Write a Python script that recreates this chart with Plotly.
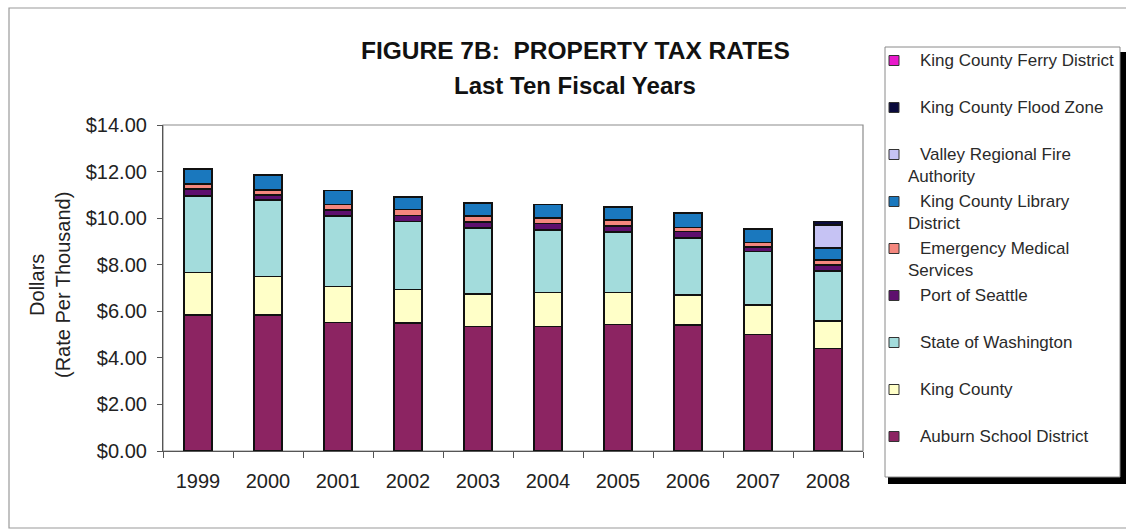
import plotly.graph_objects as go

# Fiscal years and tax rates (dollars per $1,000 of assessed value)
years = ["1999", "2000", "2001", "2002", "2003", "2004", "2005", "2006", "2007", "2008"]

auburn_school = [5.84, 5.85, 5.52, 5.51, 5.34, 5.34, 5.44, 5.42, 5.01, 4.41]
king_county = [1.82, 1.64, 1.54, 1.43, 1.40, 1.46, 1.37, 1.28, 1.26, 1.17]
state_wa = [3.29, 3.29, 3.02, 2.91, 2.83, 2.69, 2.59, 2.45, 2.29, 2.15]
port_seattle = [0.29, 0.21, 0.28, 0.26, 0.27, 0.28, 0.27, 0.28, 0.21, 0.26]
ems = [0.22, 0.22, 0.23, 0.26, 0.24, 0.24, 0.24, 0.16, 0.19, 0.21]
library = [0.65, 0.64, 0.59, 0.55, 0.58, 0.57, 0.58, 0.64, 0.57, 0.53]
valley_fire = [0, 0, 0, 0, 0, 0, 0, 0, 0, 0.97]
flood_zone = [0, 0, 0, 0, 0, 0, 0, 0, 0, 0.15]
ferry = [0, 0, 0, 0, 0, 0, 0, 0, 0, 0.01]

# Stacking order, bottom to top
series = [
    ("Auburn School District", auburn_school, "#8C2462"),
    ("King County", king_county, "#FFFFC8"),
    ("State of Washington", state_wa, "#A3DCDC"),
    ("Port of Seattle", port_seattle, "#5E0F6E"),
    ("Emergency Medical Services", ems, "#F4877E"),
    ("King County Library District", library, "#1A78BE"),
    ("Valley Regional Fire Authority", valley_fire, "#C6C3F4"),
    ("King County Flood Zone", flood_zone, "#0A0A3C"),
    ("King County Ferry District", ferry, "#E81ACB"),
]

# Legend rows, top to bottom: (first line, continuation line)
legend_rows = [
    ("King County Ferry District", ""),
    ("King County Flood Zone", ""),
    ("Valley Regional Fire", "Authority"),
    ("King County Library", "District"),
    ("Emergency Medical", "Services"),
    ("Port of Seattle", ""),
    ("State of Washington", ""),
    ("King County", ""),
    ("Auburn School District", ""),
]

W, H = 1126, 531
ML, MR, MT, MB = 163, 263, 125, 80
PW, PH = W - ML - MR, H - MT - MB
FONT = "Liberation Sans, Arial, sans-serif"


def px(x):
    return (x - ML) / PW


def py(y):
    return (H - MB - y) / PH


fig = go.Figure()
for name, vals, color in series:
    fig.add_trace(go.Bar(
        x=years, y=vals, name=name,
        marker=dict(color=color, line=dict(color="#111111", width=1.6)),
        showlegend=False,
    ))

shapes = []
annotations = []

# outer chart border
shapes.append(dict(type="rect", xref="paper", yref="paper",
                   x0=px(9), x1=px(1140), y0=py(8), y1=py(528),
                   line=dict(color="#9A9A9A", width=1.2), fillcolor="rgba(0,0,0,0)",
                   layer="below"))
# plot area frame
shapes.append(dict(type="rect", xref="paper", yref="paper",
                   x0=0, x1=1, y0=0, y1=1,
                   line=dict(color="#8C8C8C", width=1.2), fillcolor="rgba(0,0,0,0)",
                   layer="below"))

# legend box with drop shadow
shapes.append(dict(type="rect", xref="paper", yref="paper",
                   x0=px(888), x1=px(1126), y0=py(52), y1=py(484),
                   line=dict(width=0), fillcolor="#000000"))
shapes.append(dict(type="rect", xref="paper", yref="paper",
                   x0=px(885), x1=px(1120), y0=py(47), y1=py(477),
                   line=dict(color="#8A8A8A", width=1), fillcolor="#FFFFFF"))

legend_colors = [s[2] for s in reversed(series)]

for i, (line1, line2) in enumerate(legend_rows):
    yc = 60.5 + 47 * i
    shapes.append(dict(type="rect", xref="paper", yref="paper",
                       x0=px(889), x1=px(899), y0=py(yc - 5), y1=py(yc + 5),
                       line=dict(color="#333333", width=1), fillcolor=legend_colors[i]))
    annotations.append(dict(text=line1, xref="paper", yref="paper",
                            x=px(918), y=py(yc), xanchor="left", yanchor="middle",
                            showarrow=False, font=dict(family=FONT, size=17, color="#2A2A2A")))
    if line2:
        annotations.append(dict(text=line2, xref="paper", yref="paper",
                                x=px(906), y=py(yc + 22), xanchor="left", yanchor="middle",
                                showarrow=False, font=dict(family=FONT, size=17, color="#2A2A2A")))

# title lines
annotations.append(dict(text="<b>FIGURE 7B:  PROPERTY TAX RATES</b>", xref="paper", yref="paper",
                        x=px(575), y=py(50), xanchor="center", yanchor="middle", showarrow=False,
                        font=dict(family=FONT, size=24.5, color="#111111")))
annotations.append(dict(text="<b>Last Ten Fiscal Years</b>", xref="paper", yref="paper",
                        x=px(575), y=py(85), xanchor="center", yanchor="middle", showarrow=False,
                        font=dict(family=FONT, size=24, color="#111111")))

# y-axis title
annotations.append(dict(text="Dollars<br>(Rate Per Thousand)", xref="paper", yref="paper",
                        x=px(50), y=py(285), xanchor="center", yanchor="middle", showarrow=False,
                        textangle=-90, font=dict(family=FONT, size=20, color="#222222")))

fig.update_layout(
    width=W, height=H,
    margin=dict(l=ML, r=MR, t=MT, b=MB),
    barmode="stack", bargap=0.6,
    paper_bgcolor="white", plot_bgcolor="white",
    shapes=shapes, annotations=annotations,
    showlegend=False,
    font=dict(family=FONT),
)
fig.update_xaxes(
    type="category", tickson="boundaries", ticks="outside", ticklen=6,
    tickcolor="#555555", showline=True, linecolor="#555555", linewidth=1.2,
    showgrid=False, tickfont=dict(family=FONT, size=20, color="#222222"),
    ticklabelstandoff=12,
)
fig.update_yaxes(
    range=[0, 14], dtick=2, tickprefix="$", tickformat=".2f",
    ticks="outside", ticklen=5, tickcolor="#555555",
    showline=True, linecolor="#555555", linewidth=1.2,
    showgrid=False, zeroline=False,
    tickfont=dict(family=FONT, size=20, color="#222222"),
    ticklabelstandoff=6,
)

fig.write_html("out.html")
